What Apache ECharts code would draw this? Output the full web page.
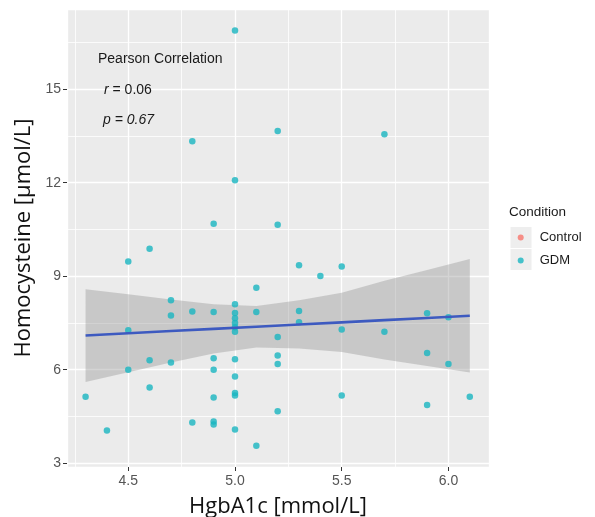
<!DOCTYPE html>
<html>
<head>
<meta charset="utf-8">
<script src="https://cdn.jsdelivr.net/npm/echarts@6/dist/echarts.min.js"></script>
<style>
html,body{margin:0;padding:0;background:#fff;}
#chart{width:595px;height:517px;}
</style>
</head>
<body>
<div id="chart"></div>
<script>
// GDM observations
const hba1c = [5.0,5.2,4.8,5.7,5.0,4.9,5.2,4.6,4.5,5.3,5.5,5.4,5.1,4.7,5.0,4.7,4.8,4.9,5.0,5.0,
               5.0,5.0,5.0,5.1,5.3,5.3,4.5,5.2,5.5,5.7,5.9,6.0,5.2,5.2,4.6,4.7,4.9,5.0,4.5,4.9,
               5.9,6.0,5.0,4.6,5.0,5.0,4.9,4.3,5.5,6.1,5.9,5.2,4.8,4.9,4.9,4.4,5.0,5.1];
const homocysteine = [16.88,13.66,13.33,13.55,12.08,10.68,10.65,9.88,9.47,9.35,9.31,9.01,8.63,8.23,8.10,7.74,7.87,7.85,7.82,7.65,
                      7.50,7.36,7.22,7.85,7.88,7.52,7.27,7.05,7.29,7.22,7.81,7.68,6.46,6.18,6.30,6.23,6.37,6.34,6.00,6.00,
                      6.54,6.18,5.78,5.43,5.25,5.17,5.11,5.13,5.17,5.13,4.87,4.67,4.31,4.34,4.24,4.05,4.08,3.56];
// Control observations (none shown in the plot)
const controlHba1c = [];
const controlHomocysteine = [];
// Linear fit and 95% confidence band
const fitX    = [4.3, 4.5, 4.7, 4.9, 5.1, 5.3, 5.5, 5.7, 5.9, 6.1];
const fitY    = [7.10,7.17,7.24,7.31,7.38,7.45,7.52,7.59,7.66,7.73];
const ciLower = [5.61,5.92,6.23,6.52,6.71,6.68,6.57,6.33,6.12,5.91];
const ciUpper = [8.58,8.42,8.25,8.10,8.04,8.23,8.47,8.85,9.20,9.55];
// Annotation text
const corrTitle = 'Pearson Correlation';
const rValue = '0.06';
const pValue = '0.67';
const legendTitle = 'Condition';
const groups = ['Control', 'GDM'];

const zip = (a, b) => a.map((v, i) => [v, b[i]]);

const chart = echarts.init(document.getElementById('chart'), null, {renderer: 'canvas'});
const tickFont = '"Liberation Sans", Arial, sans-serif';
const titleFont = '"Open Sans", "Liberation Sans", sans-serif';

chart.setOption({
  animation: false,
  backgroundColor: '#ffffff',
  grid: {left: 67, top: 9, width: 422, height: 458, backgroundColor: '#EBEBEB', show: true, borderWidth: 0,
         containLabel: false, outerBoundsMode: 'none'},
  xAxis: {
    type: 'value', min: 4.213, max: 6.19, splitNumber: 4,
    name: 'HgbA1c [mmol/L]', nameLocation: 'middle', nameGap: 29,
    nameTextStyle: {fontFamily: titleFont, fontSize: 22, color: '#111'},
    axisLine: {show: false},
    axisTick: {show: true, length: 4, lineStyle: {color: '#333', width: 1}},
    axisLabel: {margin: 7, fontFamily: tickFont, fontSize: 14, color: '#555',
                formatter: v => v.toFixed(1), showMinLabel: false, showMaxLabel: false},
    splitLine: {show: true, lineStyle: {color: '#ffffff', width: 1.3}},
    minorTick: {show: false, splitNumber: 2},
    minorSplitLine: {show: true, lineStyle: {color: '#ffffff', width: 0.8}}
  },
  yAxis: {
    type: 'value', min: 2.88, max: 17.57, splitNumber: 5,
    name: 'Homocysteine [μmol/L]', nameLocation: 'middle', nameGap: 30, nameRotate: 90,
    nameTextStyle: {fontFamily: titleFont, fontSize: 22, color: '#111'},
    axisLine: {show: false},
    axisTick: {show: true, length: 4, lineStyle: {color: '#333', width: 1}},
    axisLabel: {margin: 6, fontFamily: tickFont, fontSize: 14, color: '#555',
                showMinLabel: false, showMaxLabel: false},
    splitLine: {show: true, lineStyle: {color: '#ffffff', width: 1.3}},
    minorTick: {show: false, splitNumber: 2},
    minorSplitLine: {show: true, lineStyle: {color: '#ffffff', width: 0.8}}
  },
  legend: {
    data: groups, orient: 'vertical', left: 517.7, top: 226.5,
    padding: 0, itemGap: 1, itemWidth: 6, itemHeight: 6, icon: 'circle',
    textStyle: {fontFamily: tickFont, fontSize: 13, color: '#1a1a1a', lineHeight: 22, padding: [0, 0, 0, 11]},
    selectedMode: false
  },
  graphic: [
    {type: 'rect', z: -1, shape: {x: 510, y: 226.5, width: 22, height: 22}, style: {fill: '#EEEEEE', stroke: '#fff', lineWidth: 1}},
    {type: 'rect', z: -1, shape: {x: 510, y: 248.5, width: 22, height: 22}, style: {fill: '#EEEEEE', stroke: '#fff', lineWidth: 1}},
    {type: 'text', z: 100, left: 509, top: 205, style: {text: legendTitle, font: '13.5px ' + tickFont, fill: '#1a1a1a'}},
    {type: 'text', z: 100, left: 98, top: 52, style: {text: corrTitle, font: '14px ' + tickFont, fill: '#1a1a1a'}},
    {type: 'text', z: 100, left: 104, top: 83, style: {
      text: '{i|r} = ' + rValue,
      font: '14px ' + tickFont, fill: '#1a1a1a',
      rich: {i: {fontStyle: 'italic', fontSize: 14, fontFamily: tickFont, fill: '#1a1a1a'}}
    }},
    {type: 'text', z: 100, left: 103, top: 113, style: {text: 'p = ' + pValue, font: 'italic 14px ' + tickFont, fill: '#1a1a1a'}}
  ],
  series: [
    {
      name: 'ci', type: 'custom', silent: true, z: 1,
      data: fitX.map((x, i) => [x, ciLower[i], ciUpper[i]]),
      renderItem: function (params, api) {
        if (params.dataIndex !== 0) return null;
        const upperPts = fitX.map((x, i) => api.coord([x, ciUpper[i]]));
        const lowerPts = fitX.map((x, i) => api.coord([x, ciLower[i]])).reverse();
        return {
          type: 'polygon',
          shape: {points: upperPts.concat(lowerPts)},
          style: {fill: 'rgba(153,153,153,0.42)', stroke: 'none'}
        };
      }
    },
    {
      name: 'Control', type: 'scatter', data: zip(controlHba1c, controlHomocysteine),
      symbolSize: 6, itemStyle: {color: '#F8766D'}, z: 3
    },
    {
      name: 'GDM', type: 'scatter', data: zip(hba1c, homocysteine),
      symbolSize: 6.5, itemStyle: {color: '#19B5C0'}, z: 3
    },
    {
      name: 'fit', type: 'line', data: zip(fitX, fitY), symbol: 'none', silent: true,
      lineStyle: {color: '#3D5AC0', width: 2.6}, z: 4
    }
  ]
});
</script>
</body>
</html>
